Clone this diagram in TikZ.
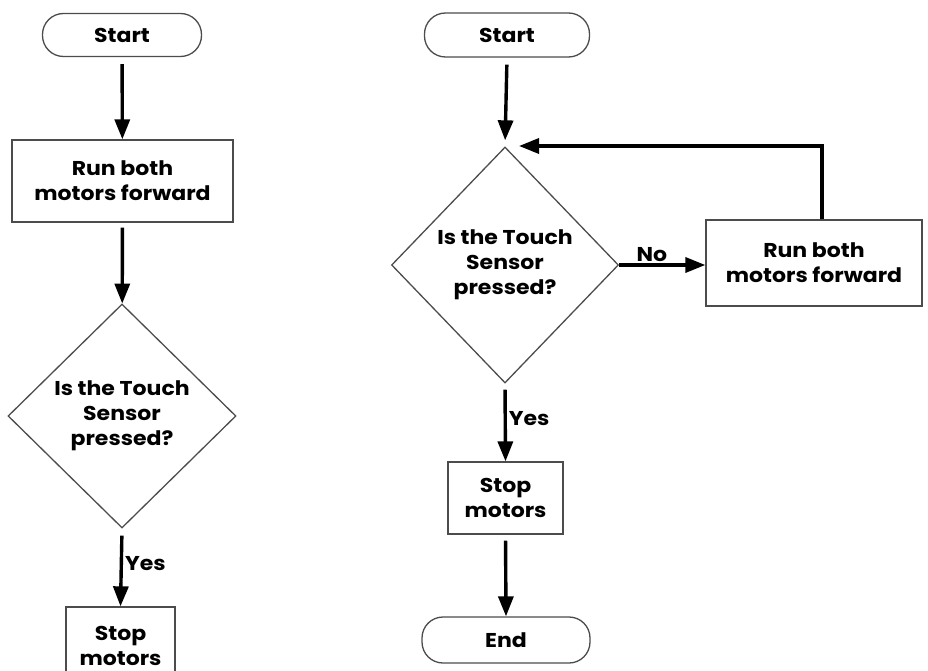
\documentclass[tikz,border=0pt]{standalone}
\usepackage{fontspec}
\setmainfont{Poppins}[FakeStretch=1.1]
\usetikzlibrary{shapes.geometric,arrows.meta}
\begin{document}
\begin{tikzpicture}[x=1pt,y=-1pt,
  txt/.style={font=\bfseries\fontsize{20}{25}\selectfont,align=center},
  term/.style={draw=black!70,line width=1.3pt,rounded corners=21pt,inner sep=0pt,txt},
  proc/.style={draw=black!70,line width=1.3pt,inner sep=0pt,txt},
  dec/.style={draw=black!70,line width=1.3pt,diamond,inner sep=0pt},
  arr/.style={line width=3.4pt,-{Triangle[length=20pt,width=15pt]}},
  lab/.style={font=\bfseries\fontsize{20}{24}\selectfont,inner sep=2pt}]
\clip (0,0) rectangle (928,671);
\useasboundingbox (0,0) rectangle (928,671);
% left
\node[term,minimum width=159pt,minimum height=43pt] (s1) at (122,35) {Start};
\node[proc,minimum width=221pt,minimum height=82pt] (r1) at (122.5,181) {Run both\\motors forward};
\node[dec,minimum width=228pt,minimum height=224pt,label={[txt]center:Is the Touch\\Sensor\\pressed?}] (d1) at (122,416) {};
\node[proc,minimum width=109pt,minimum height=78pt] (t1) at (120.5,646) {Stop\\motors};
\draw[arr,shorten <=7pt] (s1) -- (r1);
\draw[arr,shorten <=5pt] (r1) -- (d1);
\draw[arr,shorten <=7pt] (d1.south) -- node[lab,right,pos=0.45]{Yes} (t1.north);
% right
\node[term,minimum width=165pt,minimum height=44pt] (s2) at (507,35) {Start};
\node[dec,minimum width=227pt,minimum height=236pt,label={[txt]center:Is the Touch\\Sensor\\pressed?}] (d2) at (505,265) {};
\node[proc,minimum width=216pt,minimum height=86pt] (r2) at (814,263) {Run both\\motors forward};
\node[proc,minimum width=115pt,minimum height=72pt] (t2) at (505.5,498) {Stop\\motors};
\node[term,minimum width=168pt,minimum height=46pt] (e2) at (506,640) {End};
\coordinate (back) at (519,146);
\draw[arr,shorten <=7pt,shorten >=6pt] (s2.south) -- (d2.north);
\draw[arr] (d2.east) -- node[lab,above,pos=0.38]{No} (r2.west |- d2.east);
\draw[arr] ([xshift=8pt]r2.north) |- (back);
\draw[arr,shorten <=6pt] (d2.south) -- node[lab,right,pos=0.45]{Yes} (t2.north);
\draw[arr,shorten <=6pt] (t2.south) -- (e2.north);
\end{tikzpicture}
\end{document}
